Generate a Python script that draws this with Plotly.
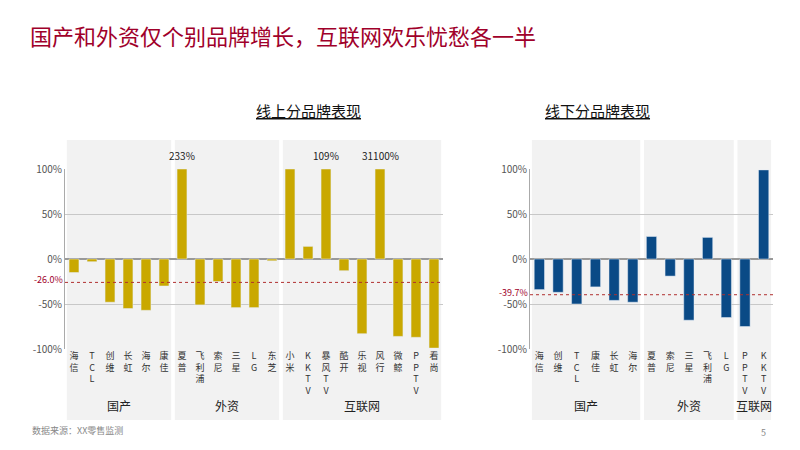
import plotly.graph_objects as go

# online
on_brands = ["海信", "TCL", "创维", "长虹", "海尔", "康佳",
             "夏普", "飞利浦", "索尼", "三星", "LG", "东芝",
             "小米", "KKTV", "暴风TV", "酷开", "乐视", "风行", "微鲸", "PPTV", "看尚"]
on_values = [-15, -3, -48, -55, -57, -30,
             233, -51, -25, -54, -54, -2,
             100, 14, 109, -13, -83, 31100, -86, -87, -99]
on_groups = [("国产", 0, 5), ("外资", 6, 11), ("互联网", 12, 20)]
on_avg = -26.0

# offline
off_brands = ["海信", "创维", "TCL", "康佳", "长虹", "海尔",
              "夏普", "索尼", "三星", "飞利浦", "LG", "PPTV", "KKTV"]
off_values = [-34, -37, -50, -31, -46, -48, 25, -19, -68, 24, -65, -75, 99]
off_groups = [("国产", 0, 5), ("外资", 6, 10), ("互联网", 11, 12)]
off_avg = -39.7

ytick_vals = [100, 50, 0, -50, -100]
ytick_text = ["100%", "50%", "0%", "-50%", "-100%"]

W, H, OFF = 800, 450, 8  # page body margin offset


def px(x):
    return (x - OFF) / W


def py(y):
    return 1 - (y - OFF) / H


def stack(s):
    return "<br>".join(list(s))


fig = go.Figure()
panels = [
    ("x", "y", on_brands, on_values, on_groups, on_avg, "#c9a800", [px(65), px(443)], "线上分品牌表现"),
    ("x2", "y2", off_brands, off_values, off_groups, off_avg, "#0a4a86", [px(530), px(773)], "线下分品牌表现"),
]
for i, (xr, yr, brands, vals, groups, avg, color, dom, title) in enumerate(panels):
    n = len(brands)
    xs = list(range(n))
    fig.add_trace(go.Bar(x=xs, y=[min(v, 100) for v in vals], marker_color=color,
                         width=0.55, xaxis=xr, yaxis=yr, showlegend=False))
    sfx = "" if i == 0 else "2"
    fig.layout["xaxis" + sfx] = dict(domain=dom, range=[-0.5, n - 0.5], anchor=yr,
                                      tickvals=xs, ticktext=[stack(b) for b in brands],
                                      tickangle=0, tickfont=dict(size=9, color="#333"),
                                      showgrid=False, zeroline=False, ticks="",
                                      automargin=False)
    fig.layout["yaxis" + sfx] = dict(domain=[py(349), py(169)], range=[-100, 100], anchor=xr,
                                      tickvals=ytick_vals, ticktext=ytick_text,
                                      tickfont=dict(size=10, color="#555"),
                                      showgrid=True, gridcolor="#c8c8c8", zeroline=True,
                                      zerolinecolor="#999", showline=True, linecolor="#aaa",
                                      automargin=False)
    for name, a, b in groups:
        fig.add_shape(type="rect", xref=xr, yref="paper", x0=a - 0.5 + 0.1, x1=b + 0.5 - 0.1,
                      y0=py(420), y1=py(140), fillcolor="#f2f2f2",
                      line_width=0, layer="below")
        fig.add_annotation(x=(a + b) / 2, y=py(405), xref=xr, yref="paper", yanchor="middle",
                           text=name, showarrow=False, font=dict(size=12, color="#222"))
    fig.add_shape(type="line", xref=xr, yref=yr, x0=-0.5, x1=n - 0.5, y0=avg, y1=avg,
                  line=dict(color="#b03030", width=1, dash="dot"))
    fig.add_annotation(x=dom[0], xref="paper", y=avg, yref=yr, xanchor="right", yanchor="bottom",
                       yshift=-6, text=f"{avg:.1f}%", showarrow=False,
                       font=dict(size=9, color="#a0002a"))
    for x, v in zip(xs, vals):
        if v > 100:
            fig.add_annotation(x=x, xref=xr, y=py(155), yref="paper", yanchor="middle",
                               text=f"{v}%", showarrow=False, font=dict(size=10, color="#222"))
    fig.add_annotation(x=(dom[0] + dom[1]) / 2, xref="paper", y=py(110), yref="paper",
                       yanchor="middle", text="<u>" + title + "</u>", showarrow=False,
                       font=dict(size=15, color="#111"))

fig.add_annotation(x=px(28), y=py(35), xref="paper", yref="paper", xanchor="left",
                   yanchor="middle", text="国产和外资仅个别品牌增长，互联网欢乐忧愁各一半",
                   showarrow=False, font=dict(size=22, color="#a0002a"))
fig.add_annotation(x=px(30), y=py(430), xref="paper", yref="paper", xanchor="left",
                   yanchor="middle", text="数据来源：XX零售监测", showarrow=False,
                   font=dict(size=9, color="#888"))
fig.add_annotation(x=px(768), y=py(432), xref="paper", yref="paper", yanchor="middle",
                   text="5", showarrow=False, font=dict(size=9, color="#888"))

fig.update_layout(width=W, height=H,
                  margin=dict(l=0, r=0, t=0, b=0, autoexpand=False),
                  plot_bgcolor="rgba(0,0,0,0)", paper_bgcolor="white",
                  font=dict(family="Noto Sans CJK SC"))
fig.write_html("out.html")
